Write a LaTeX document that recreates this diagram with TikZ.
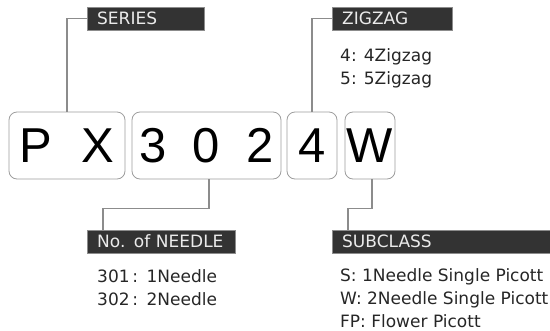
\documentclass[tikz,border=0pt]{standalone}
\usepackage{fontspec}
\setmainfont{DejaVu Sans}
\newfontfamily\bigfont{Liberation Sans}
\definecolor{tagfill}{HTML}{333333}
\definecolor{linegray}{HTML}{8C8C8C}
\tikzset{
  codebox/.style={draw=linegray!85, rounded corners=8pt, line width=0.8pt,
    minimum height=67pt, inner sep=0pt, font=\bigfont\fontsize{49}{49}\selectfont},
  tagbox/.style={draw=linegray, fill=tagfill, text=white!92!black, minimum height=23pt,
    inner xsep=10pt, inner ysep=0pt, anchor=west, align=left,
    text height=12.5pt, text depth=0pt, font=\fontsize{17}{20}\selectfont},
  leader/.style={draw=linegray, line width=1.2pt},
  notes/.style={anchor=north west, inner sep=0pt, align=left, text=black!85,
    font=\fontsize{17}{23}\selectfont}
}
\begin{document}
\begin{tikzpicture}[x=1pt, y=-1pt]
  \useasboundingbox (0,0) rectangle (550,330);
  \node[codebox, minimum width=116pt] (pxbox) at (67,145.5) {P\hspace{29pt}X};
  \node[codebox, minimum width=149pt] (numbox) at (206.5,145.5) {3\hspace{26pt}0\hspace{26pt}2};
  \node[codebox, minimum width=50pt] (zzbox) at (312,145.5) {4};
  \node[codebox, minimum width=50pt] (subbox) at (370,145.5) {W};

  \node[tagbox, text width=97pt] (series) at (87,18.5) {SERIES};
  \node[tagbox, text width=100pt] (zigzag) at (332,18.5) {ZIGZAG};
  \node[tagbox, text width=128pt] (needle) at (87,241.5) {No. of NEEDLE};
  \node[tagbox, text width=199pt] (subclass) at (332,241.5) {SUBCLASS};

  \draw[leader] (series.west) -| (pxbox.north);
  \draw[leader] (zigzag.west) -| (zzbox.north);
  \draw[leader] ([xshift=2.5pt]numbox.south) -- ++(0,29) -| ([xshift=16pt]needle.north west);
  \draw[leader] ([xshift=2pt]subbox.south) -- ++(0,29) -| ([xshift=16pt]subclass.north west);

  \node[notes] (zznotes) at (340,48) {4: 4Zigzag\\5: 5Zigzag};
  \node[notes] (needlenotes) at (97,269) {301\,:\enspace1Needle\\302\,:\enspace2Needle};
  \node[notes] (subnotes) at (340,268) {S: 1Needle Single Picott\\W: 2Needle Single Picott\\FP: Flower Picott};
\end{tikzpicture}
\end{document}
